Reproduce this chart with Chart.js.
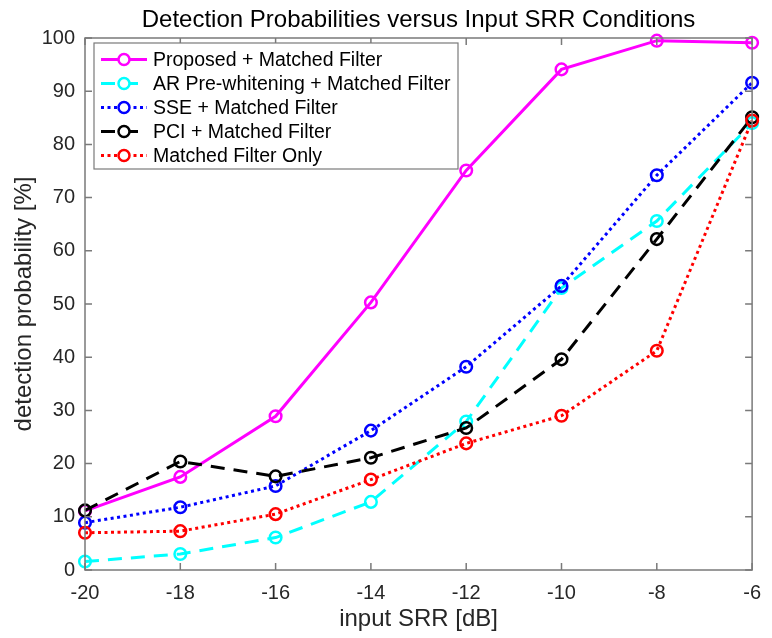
<!DOCTYPE html>
<html>
<head>
<meta charset="utf-8">
<script src="https://cdn.jsdelivr.net/npm/chart.js@4"></script>
<style>
html,body{margin:0;padding:0;background:#fff;}
#wrap{width:772px;height:638px;position:relative;}
</style>
</head>
<body>
<div id="wrap"><canvas id="chart"></canvas></div>
<script>
// input SRR in dB
let srr = [-20, -18, -16, -14, -12, -10, -8, -6];

let proposed = [11.1, 17.5, 28.9, 50.3, 75.1, 94.1, 99.5, 99.1];
let arWhite  = [1.6, 3.0, 6.1, 12.8, 27.9, 53.0, 65.6, 84.0];
let sse      = [8.9, 11.8, 15.8, 26.2, 38.2, 53.4, 74.2, 91.6];
let pci      = [11.2, 20.4, 17.6, 21.1, 26.7, 39.6, 62.2, 85.1];
let mfOnly   = [7.0, 7.3, 10.5, 17.0, 23.8, 29.0, 41.2, 84.5];

let xTicks = [-20, -18, -16, -14, -12, -10, -8, -6];
let yTicks = [0, 10, 20, 30, 40, 50, 60, 70, 80, 90, 100];

let seriesNames = [
"Proposed + Matched Filter",
"AR Pre-whitening + Matched Filter",
"SSE + Matched Filter",
"PCI + Matched Filter",
"Matched Filter Only"
];

const FONT = "'Liberation Sans', Arial, Helvetica, sans-serif";
const AXIS_COLOR = "#7a7a7a";
const TEXT_COLOR = "#262626";

function pts(ys){
return srr.map((x,i) => ({x:x, y:ys[i]}));
}

function makeSet(i, ys, color, dash){
return {
label: seriesNames[i],
data: pts(ys),
borderColor: color,
backgroundColor: color,
borderWidth: 3,
borderDash: dash,
pointRadius: 5.8,
pointHoverRadius: 5.8,
pointBorderWidth: 2.5,
pointBorderColor: color,
pointBackgroundColor: "rgba(0,0,0,0)",
tension: 0,
clip: false,
order: 4 - i
};
}

/* box around plot with inward ticks on all four sides */
const matlabAxes = {
id: "matlabAxes",
afterDatasetsDraw(chart){
const ctx = chart.ctx;
const a = chart.chartArea;
const xs = chart.scales.x, ys = chart.scales.y;
ctx.save();
ctx.strokeStyle = AXIS_COLOR;
ctx.lineWidth = 1.5;
ctx.setLineDash([]);
ctx.strokeRect(a.left, a.top, a.right - a.left, a.bottom - a.top);
ctx.beginPath();
xTicks.forEach(v => {
let px = xs.getPixelForValue(v);
ctx.moveTo(px, a.bottom); ctx.lineTo(px, a.bottom - 7);
ctx.moveTo(px, a.top); ctx.lineTo(px, a.top + 7);
});
yTicks.forEach(v => {
let py = ys.getPixelForValue(v);
ctx.moveTo(a.left, py); ctx.lineTo(a.left + 7, py);
ctx.moveTo(a.right, py); ctx.lineTo(a.right - 7, py);
});
ctx.stroke();
ctx.restore();
}
};

/* legend inside the axes, upper left */
const boxLegend = {
id: "boxLegend",
afterDraw(chart){
const ctx = chart.ctx;
const a = chart.chartArea;
let bx = a.left + 9, by = a.top + 5, bw = 364, bh = 126;
ctx.save();
ctx.fillStyle = "#fff";
ctx.fillRect(bx, by, bw, bh);
ctx.strokeStyle = AXIS_COLOR;
ctx.lineWidth = 1.2;
ctx.strokeRect(bx, by, bw, bh);
ctx.font = "19.5px " + FONT;
ctx.textBaseline = "middle";
chart.data.datasets.forEach((ds, i) => {
let cy = by + 16.5 + i * 24;
ctx.strokeStyle = ds.borderColor;
ctx.lineWidth = 3;
ctx.setLineDash(ds.borderDash || []);
ctx.beginPath();
ctx.moveTo(bx + 7, cy);
ctx.lineTo(bx + 53, cy);
ctx.stroke();
ctx.setLineDash([]);
ctx.fillStyle = "#fff";
ctx.lineWidth = 2.5;
ctx.beginPath();
ctx.arc(bx + 30, cy, 5.5, 0, Math.PI * 2);
ctx.fill();
ctx.stroke();
ctx.fillStyle = "#000";
ctx.fillText(ds.label, bx + 59, cy + 1);
});
ctx.restore();
}
};

let ctx = document.getElementById("chart").getContext("2d");

new Chart(ctx, {
type: "line",
data: {
datasets: [
makeSet(0, proposed, "#ff00ff", []),
makeSet(1, arWhite, "#00ffff", [14, 9]),
makeSet(2, sse, "#0000ff", [3, 3.5]),
makeSet(3, pci, "#000000", [14, 9]),
makeSet(4, mfOnly, "#ff0000", [3, 3.5])
]
},
options: {
responsive: true,
maintainAspectRatio: false,
animation: false,
events: [],
layout: { padding: { left: 0, right: 13, top: 0, bottom: 0 } },
plugins: {
legend: { display: false },
tooltip: { enabled: false },
title: {
display: true,
fullSize: false,
text: "Detection Probabilities versus Input SRR Conditions",
color: "#000",
font: { family: FONT, size: 24, weight: "normal" },
padding: { top: 5.5, bottom: 3.7 }
}
},
scales: {
x: {
type: "linear",
min: -20, max: -6,
afterFit(s){ s.height = 68; },
afterBuildTicks(s){ s.ticks = xTicks.map(v => ({value: v})); },
grid: { display: false, drawTicks: false },
border: { display: false },
ticks: { color: TEXT_COLOR, font: { family: FONT, size: 20 }, padding: 11, maxRotation: 0 },
title: {
display: true,
text: "input SRR [dB]",
color: TEXT_COLOR,
font: { family: FONT, size: 24 },
padding: { top: 0, bottom: 4 }
}
},
y: {
min: 0, max: 100,
afterFit(s){ s.width = 85; },
afterBuildTicks(s){ s.ticks = yTicks.map(v => ({value: v})); },
grid: { display: false, drawTicks: false },
border: { display: false },
ticks: { color: TEXT_COLOR, font: { family: FONT, size: 20 }, padding: 10 },
title: {
display: true,
text: "detection probability [%]",
color: TEXT_COLOR,
font: { family: FONT, size: 24 },
padding: { top: 10, bottom: 0 }
}
}
}
},
plugins: [matlabAxes, boxLegend]
});
</script>
</body>
</html>
